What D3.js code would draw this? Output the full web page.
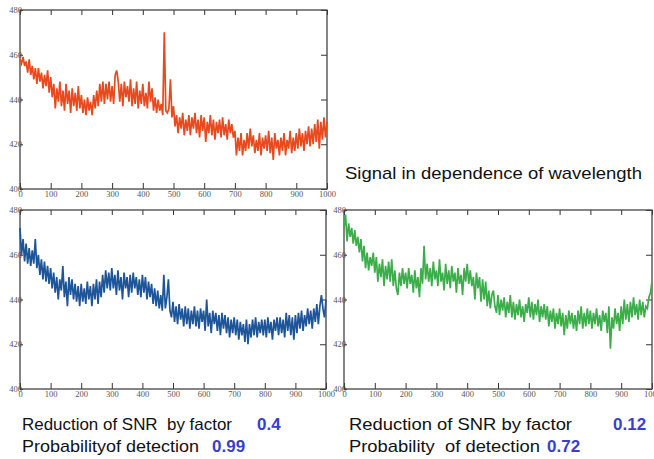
<!DOCTYPE html>
<html>
<head>
<meta charset="utf-8">
<script src="https://cdn.jsdelivr.net/npm/d3@7"></script>
<style>
  body { margin: 0; background: #fff; }
  svg { display: block; }
  .tick text { font-family: "Liberation Serif", "DejaVu Serif", serif; font-size: 8.5px; fill: #555; }
  .tick line { stroke: #333; stroke-width: 1; }
  .cap { white-space: pre; }
</style>
</head>
<body>
<svg id="chart" width="654" height="459"></svg>
<script>
// x positions: 0, 5, 10 ... 1000 (wavelength units)
const step = 5;
const xTicks = [0, 100, 200, 300, 400, 500, 600, 700, 800, 900, 1000];
const yTicks = [400, 420, 440, 460, 480];

const signalOrange = [
  458, 456, 459, 455, 457, 452, 458, 451, 455, 449,
  454, 447, 454, 448, 452, 445, 451, 446, 453, 443,
  450, 441, 447, 436, 445, 439, 448, 437, 444, 435,
  447, 438, 444, 434, 445, 437, 443, 435, 446, 436,
  442, 434, 440, 433, 441, 435, 439, 433, 442, 436,
  444, 437, 447, 439, 448, 438, 447, 440, 448, 439,
  446, 438, 451, 453, 448, 439, 447, 437, 448, 441,
  446, 439, 449, 437, 445, 438, 448, 436, 444, 438,
  447, 437, 443, 436, 448, 439, 445, 435, 441, 434,
  440, 435, 438, 433, 470, 435, 434, 436, 449, 432,
  437, 428, 433, 425, 432, 427, 434, 424, 431, 426,
  433, 424, 432, 427, 434, 425, 431, 423, 433, 426,
  432, 421, 430, 425, 433, 424, 431, 422, 430, 425,
  431, 423, 432, 424, 429, 422, 431, 425, 429, 423,
  426, 415, 423, 417, 425, 415, 422, 417, 425, 418,
  427, 419, 424, 416, 422, 417, 425, 415, 423, 418,
  424, 417, 426, 416, 423, 413, 425, 418, 422, 415,
  423, 417, 425, 415, 422, 418, 426, 416, 423, 417,
  425, 418, 427, 419, 425, 417, 426, 420, 428, 419,
  427, 420, 429, 421, 431, 418, 430, 422, 432, 423,
  430
];

const signalBlue = [
  472, 460, 467, 457, 465, 456, 463, 455, 462, 456,
  467, 454, 460, 451, 458, 449, 457, 448, 455, 447,
  454, 445, 452, 443, 450, 440, 449, 444, 455, 441,
  448, 437, 450, 442, 449, 440, 447, 439, 446, 437,
  447, 439, 445, 438, 448, 440, 446, 437, 447, 440,
  449, 438, 448, 441, 451, 443, 453, 445, 452, 444,
  454, 445, 451, 442, 453, 444, 450, 440, 452, 445,
  450, 441, 451, 443, 452, 445, 450, 442, 449, 441,
  451, 443, 450, 440, 448, 441, 447, 438, 445, 437,
  444, 436, 442, 435, 451, 436, 441, 449, 435, 432,
  439, 430, 437, 429, 438, 431, 436, 428, 437, 429,
  436, 427, 435, 429, 437, 428, 435, 427, 436, 430,
  435, 426, 440, 428, 434, 425, 435, 429, 434, 426,
  433, 424, 434, 427, 433, 425, 432, 423, 431, 425,
  432, 424, 431, 422, 430, 424, 429, 421, 431, 420,
  429, 423, 431, 424, 432, 423, 430, 425, 431, 424,
  431, 423, 432, 425, 430, 422, 431, 426, 432, 424,
  432, 425, 431, 423, 434, 426, 433, 424, 432, 422,
  433, 425, 434, 427, 435, 426, 433, 428, 436, 429,
  435, 427, 436, 430, 438, 429, 437, 442, 436, 432,
  440
];

const signalGreen = [
  472, 478, 466, 474, 468, 472, 465, 471, 464, 468,
  461, 467, 457, 464, 454, 461, 453, 459, 455, 461,
  452, 459, 448, 456, 450, 458, 446, 455, 449, 457,
  448, 458, 446, 453, 445, 442, 452, 446, 454, 447,
  452, 445, 454, 447, 451, 443, 453, 445, 450, 441,
  454, 447, 464, 449, 456, 448, 454, 446, 457, 449,
  453, 446, 458, 448, 452, 444, 456, 447, 453, 445,
  455, 448, 452, 443, 454, 447, 451, 442, 454, 448,
  456, 447, 453, 446, 450, 440, 452, 445, 450, 439,
  449, 440, 448, 437, 444, 436, 442, 444, 437, 434,
  442, 433, 440, 435, 441, 432, 439, 434, 442, 432,
  439, 431, 438, 433, 440, 432, 437, 430, 438, 434,
  441, 432, 439, 431, 438, 433, 440, 430, 437, 432,
  438, 431, 437, 428, 435, 430, 436, 427, 434, 429,
  436, 428, 434, 424, 433, 427, 435, 429, 434, 427,
  433, 426, 435, 429, 437, 427, 434, 428, 436, 429,
  435, 427, 434, 429, 436, 428, 433, 426, 435, 430,
  434, 425, 437, 418, 432, 427, 436, 429, 434, 426,
  437, 429, 440, 431, 438, 430, 439, 432, 441, 433,
  438, 431, 440, 433, 439, 432, 437, 436, 441, 443,
  448
];

const title = "Signal in dependence of wavelength";
const captionLeft = [["Reduction of SNR  by factor", "0.4"], ["Probabilityof detection", "0.99"]];
const captionRight = [["Reduction of SNR by factor", "0.12"], ["Probability  of detection", "0.72"]];

const svg = d3.select("#chart");

function panel(values, color, left, right, top, bottom) {
  const x = d3.scaleLinear().domain([0, 1000]).range([left, right]);
  const y = d3.scaleLinear().domain([400, 480]).range([bottom, top]);
  const g = svg.append("g");

  g.append("g")
      .attr("transform", `translate(0,${bottom})`)
      .call(d3.axisBottom(x).tickValues(xTicks).tickFormat(d3.format("d"))
        .tickSizeInner(-6).tickSizeOuter(0).tickPadding(2))
      .call(a => a.select(".domain").remove());
  g.append("g")
      .attr("transform", `translate(0,${top})`)
      .call(d3.axisTop(x).tickValues(xTicks).tickSizeInner(-5).tickSizeOuter(0).tickFormat(""))
      .call(a => a.select(".domain").remove());
  g.append("g")
      .attr("transform", `translate(${left},0)`)
      .call(d3.axisLeft(y).tickValues(yTicks).tickSizeInner(-3).tickSizeOuter(0).tickPadding(-2))
      .call(a => a.select(".domain").remove());
  g.append("g")
      .attr("transform", `translate(${right},0)`)
      .call(d3.axisRight(y).tickValues(yTicks).tickSizeInner(-6).tickSizeOuter(0).tickFormat(""))
      .call(a => a.select(".domain").remove());

  g.append("rect")
      .attr("x", left).attr("y", top)
      .attr("width", right - left).attr("height", bottom - top)
      .attr("fill", "none").attr("stroke", "#444").attr("stroke-width", 1.3);

  const line = d3.line()
      .x((d, i) => x(i * step))
      .y(d => y(d));

  g.append("path")
      .datum(values)
      .attr("fill", "none")
      .attr("stroke", color)
      .attr("stroke-width", 1.7)
      .attr("stroke-linejoin", "miter")
      .attr("d", line);
}

panel(signalOrange, "#E84A1E", 20, 327, 10, 189);
panel(signalBlue, "#1E5599", 20, 326, 210, 389);
panel(signalGreen, "#3BAE4A", 344, 652, 210, 389);

svg.append("text")
    .attr("x", 345).attr("y", 179)
    .attr("font-family", "Liberation Sans, Arial, sans-serif")
    .attr("font-size", 17)
    .attr("textLength", 297).attr("lengthAdjust", "spacingAndGlyphs")
    .attr("fill", "#111")
    .text(title);

function caption(lines, x0, numX, widths) {
  lines.forEach((l, i) => {
    const base = 430 + i * 22;
    svg.append("text")
        .attr("class", "cap")
        .attr("x", x0).attr("y", base)
        .attr("font-family", "Liberation Sans, Arial, sans-serif")
        .attr("font-size", 17)
        .attr("textLength", widths[i]).attr("lengthAdjust", "spacingAndGlyphs")
        .attr("fill", "#111")
        .text(l[0]);
    svg.append("text")
        .attr("x", numX[i]).attr("y", base)
        .attr("font-family", "Liberation Sans, Arial, sans-serif")
        .attr("font-size", 17)
        .attr("font-weight", "bold")
        .attr("fill", "#3A3FCB")
        .text(l[1]);
  });
}

caption(captionLeft, 22, [257, 212], [210, 177]);
caption(captionRight, 349, [613, 547], [223, 191]);
</script>
</body>
</html>
